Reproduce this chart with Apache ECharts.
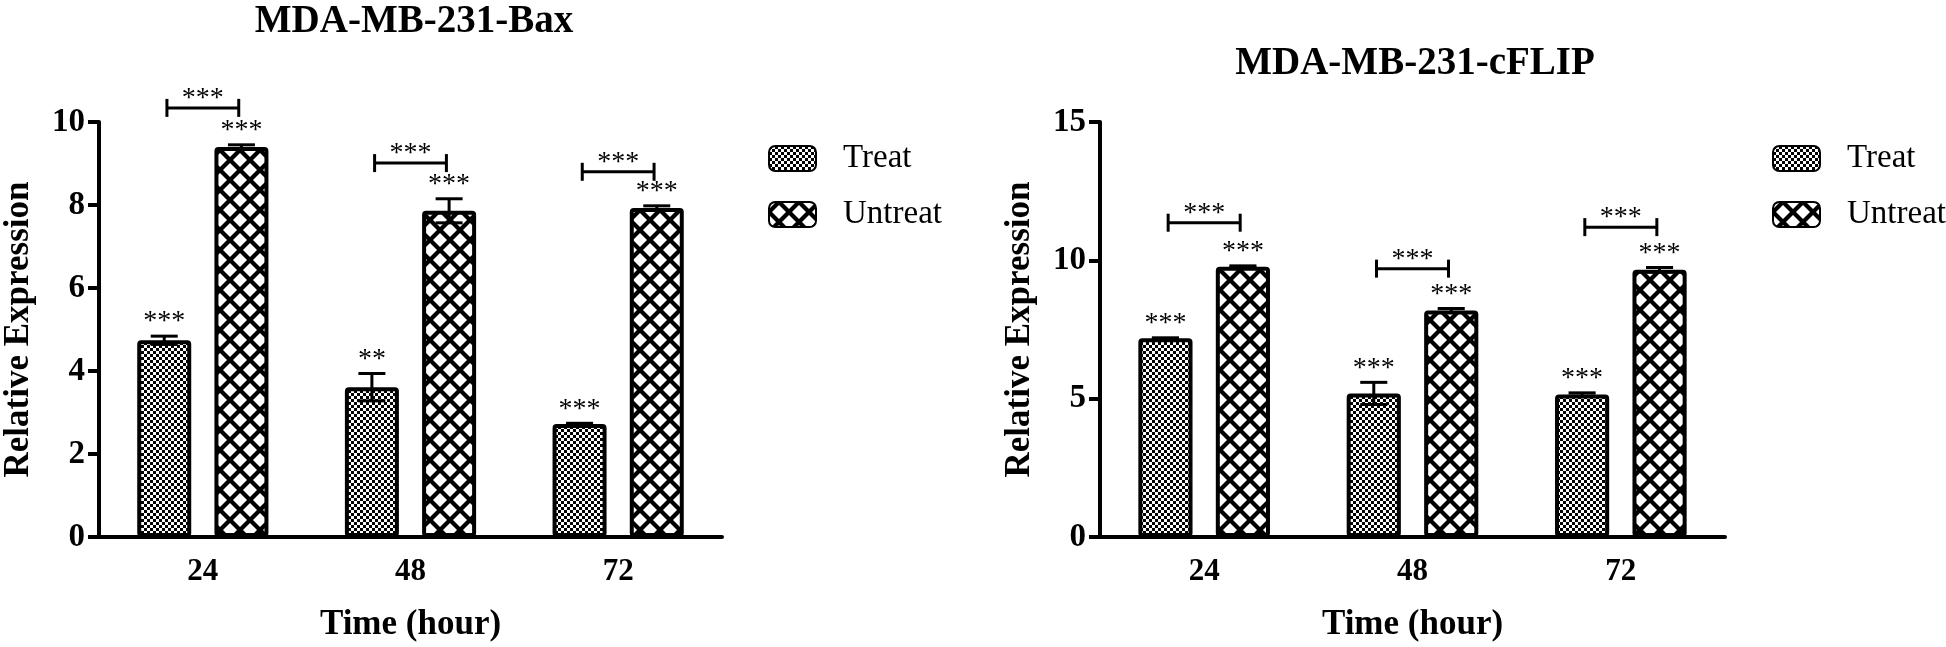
<!DOCTYPE html>
<html><head><meta charset="utf-8">
<script src="https://cdn.jsdelivr.net/npm/echarts@6/dist/echarts.min.js"></script>
<style>html,body{margin:0;padding:0;background:#fff}#c{width:1946px;height:647px}</style>
</head><body><div id="c"></div>
<script>
// ---------- data ----------
const categories = ['24', '48', '72'];
const seriesNames = ['Treat', 'Untreat'];
const titles = ['MDA-MB-231-Bax', 'MDA-MB-231-cFLIP'];
const xName = 'Time (hour)';
const yName = 'Relative Expression';

const baxTreat = [4.74, 3.61, 2.72];
const baxTreatErr = [0.10, 0.33, 0.02];
const baxUntreat = [9.40, 7.86, 7.93];
const baxUntreatErr = [0.05, 0.29, 0.05];
const baxTreatSig = ['***', '**', '***'];
const baxUntreatSig = ['***', '***', '***'];
const baxPairSig = ['***', '***', '***'];
const baxPairLevel = [10.34, 9.01, 8.80];

const cflipTreat = [7.18, 5.19, 5.15];
const cflipTreatErr = [0.02, 0.40, 0.06];
const cflipUntreat = [9.77, 8.19, 9.66];
const cflipUntreatErr = [0.03, 0.07, 0.08];
const cflipTreatSig = ['***', '***', '***'];
const cflipUntreatSig = ['***', '***', '***'];
const cflipPairSig = ['***', '***', '***'];
const cflipPairLevel = [11.36, 9.70, 11.20];

const baxAxis = { min: 0, max: 10, interval: 2 };
const cflipAxis = { min: 0, max: 15, interval: 5 };

// ---------- styles ----------
const FONT = '"Liberation Serif", "Times New Roman", serif';
const BAR_FRAC = 0.26;
const BAR_GAP = 0.43;

function checkerPattern() {
  const c = document.createElement('canvas');
  c.width = 6; c.height = 6;
  const g = c.getContext('2d');
  g.fillStyle = '#fff'; g.fillRect(0, 0, 6, 6);
  g.fillStyle = '#000'; g.fillRect(0, 0, 3, 3); g.fillRect(3, 3, 3, 3);
  return c;
}
function latticePattern() {
  const s = 20, h = 7;
  const c = document.createElement('canvas');
  c.width = s; c.height = s;
  const g = c.getContext('2d');
  g.fillStyle = '#000'; g.fillRect(0, 0, s, s);
  g.fillStyle = '#fff';
  const pts = [[s / 2, s / 2], [0, 0], [s, 0], [0, s], [s, s]];
  pts.forEach(([cx, cy]) => {
    g.beginPath();
    g.moveTo(cx, cy - h); g.lineTo(cx + h, cy); g.lineTo(cx, cy + h); g.lineTo(cx - h, cy);
    g.closePath(); g.fill();
  });
  return c;
}
const treatFill = { image: checkerPattern(), repeat: 'repeat' };
const untreatFill = { image: latticePattern(), repeat: 'repeat' };

function barSeries(name, data, fill, idx) {
  return {
    name, type: 'bar', xAxisIndex: idx, yAxisIndex: idx, data,
    barWidth: (BAR_FRAC * 100) + '%', barGap: (BAR_GAP * 100) + '%',
    itemStyle: { color: fill, borderColor: '#000', borderWidth: 4, borderRadius: 2 },
    emphasis: { disabled: true }, silent: true, z: 2
  };
}

function errSeries(means, errs, sigs, side, idx) {
  return {
    type: 'custom', xAxisIndex: idx, yAxisIndex: idx, z: 5, silent: true, clip: false,
    data: means.map((m, i) => [i, m, errs[i]]),
    encode: { x: 0, y: 1 },
    renderItem: (params, api) => {
      const i = api.value(0), m = api.value(1), e = api.value(2);
      const band = api.size([1, 0])[0];
      const off = side * band * BAR_FRAC * (1 + BAR_GAP) / 2;
      const t = api.coord([i, m + e]), b = api.coord([i, m - e]);
      const x = t[0] + off, cw = band * BAR_FRAC * 0.25;
      const ls = { stroke: '#000', lineWidth: 3 };
      return {
        type: 'group', children: [
          { type: 'line', shape: { x1: x, y1: t[1], x2: x, y2: b[1] }, style: ls },
          { type: 'line', shape: { x1: x - cw, y1: t[1], x2: x + cw, y2: t[1] }, style: ls },
          { type: 'line', shape: { x1: x - cw, y1: b[1], x2: x + cw, y2: b[1] }, style: ls },
          { type: 'text', x: x, y: t[1] - 14,
            style: { text: sigs[params.dataIndex], font: '28px ' + FONT, fill: '#000', align: 'center', verticalAlign: 'middle' } }
        ]
      };
    }
  };
}

function bracketSeries(levels, sigs, idx) {
  return {
    type: 'custom', xAxisIndex: idx, yAxisIndex: idx, z: 5, silent: true, clip: false,
    data: levels.map((v, i) => [i, v]),
    encode: { x: 0, y: 1 },
    renderItem: (params, api) => {
      const p = api.coord([api.value(0), api.value(1)]);
      const band = api.size([1, 0])[0];
      const off = band * BAR_FRAC * (1 + BAR_GAP) / 2 * 0.93;
      const x1 = p[0] - off, x2 = p[0] + off, y = p[1], h = 9;
      const ls = { stroke: '#000', lineWidth: 3 };
      return {
        type: 'group', children: [
          { type: 'line', shape: { x1, y1: y, x2, y2: y }, style: ls },
          { type: 'line', shape: { x1, y1: y - h, x2: x1, y2: y + h }, style: ls },
          { type: 'line', shape: { x1: x2, y1: y - h, x2, y2: y + h }, style: ls },
          { type: 'text', x: p[0], y: y - 9,
            style: { text: sigs[params.dataIndex], font: '28px ' + FONT, fill: '#000', align: 'center', verticalAlign: 'middle' } }
        ]
      };
    }
  };
}

function xAxis(idx) {
  return {
    type: 'category', gridIndex: idx, data: categories,
    name: xName, nameLocation: 'middle', nameGap: 70,
    nameTextStyle: { fontFamily: FONT, fontWeight: 'bold', fontSize: 35, color: '#000' },
    axisLine: { lineStyle: { color: '#000', width: 4 } },
    axisTick: { alignWithLabel: true, length: 10, lineStyle: { color: '#000', width: 4 } },
    axisLabel: { fontFamily: FONT, fontWeight: 'bold', fontSize: 31, color: '#000', margin: 19 },
    splitLine: { show: false }
  };
}
function yAxis(idx, ax) {
  return {
    type: 'value', gridIndex: idx, min: ax.min, max: ax.max, interval: ax.interval,
    name: yName, nameLocation: 'middle', nameGap: 63, nameRotate: 90,
    nameTextStyle: { fontFamily: FONT, fontWeight: 'bold', fontSize: 35, color: '#000' },
    axisLine: { show: true, lineStyle: { color: '#000', width: 4 } },
    axisTick: { show: true, length: 11, lineStyle: { color: '#000', width: 4 } },
    axisLabel: { fontFamily: FONT, fontWeight: 'bold', fontSize: 33, color: '#000', margin: 14 },
    splitLine: { show: false }
  };
}
function legend(left) {
  return {
    orient: 'vertical', left, top: 137, itemWidth: 47, itemHeight: 25, itemGap: 23,
    data: seriesNames, selectedMode: false,
    textStyle: { fontFamily: FONT, fontSize: 33, color: '#000', lineHeight: 25, padding: [0, 0, 0, 22] }
  };
}

const chart = echarts.init(document.getElementById('c'), null, { renderer: 'canvas' });
chart.setOption({
  backgroundColor: '#fff',
  animation: false,
  title: [
    { text: titles[0], left: 409, top: -3, textAlign: 'center',
      textStyle: { fontFamily: FONT, fontWeight: 'bold', fontSize: 39, color: '#000' } },
    { text: titles[1], left: 1410, top: 39, textAlign: 'center',
      textStyle: { fontFamily: FONT, fontWeight: 'bold', fontSize: 39, color: '#000' } }
  ],
  legend: [legend(763), legend(1767)],
  grid: [
    { left: 96, right: 1224, top: 122, bottom: 109 },
    { left: 1100, right: 221, top: 122, bottom: 109 }
  ],
  xAxis: [xAxis(0), xAxis(1)],
  yAxis: [yAxis(0, baxAxis), yAxis(1, cflipAxis)],
  series: [
    barSeries(seriesNames[0], baxTreat, treatFill, 0),
    barSeries(seriesNames[1], baxUntreat, untreatFill, 0),
    errSeries(baxTreat, baxTreatErr, baxTreatSig, -1, 0),
    errSeries(baxUntreat, baxUntreatErr, baxUntreatSig, 1, 0),
    bracketSeries(baxPairLevel, baxPairSig, 0),
    barSeries(seriesNames[0], cflipTreat, treatFill, 1),
    barSeries(seriesNames[1], cflipUntreat, untreatFill, 1),
    errSeries(cflipTreat, cflipTreatErr, cflipTreatSig, -1, 1),
    errSeries(cflipUntreat, cflipUntreatErr, cflipUntreatSig, 1, 1),
    bracketSeries(cflipPairLevel, cflipPairSig, 1)
  ]
});
</script></body></html>
